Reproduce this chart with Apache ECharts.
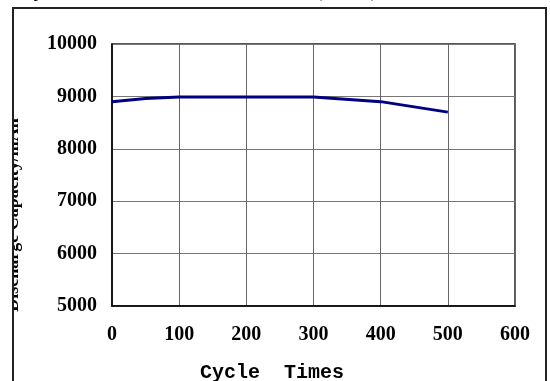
<!DOCTYPE html>
<html>
<head>
<meta charset="utf-8">
<script src="https://cdn.jsdelivr.net/npm/echarts@6/dist/echarts.min.js"></script>
<style>html,body{margin:0;padding:0;background:#fff}#c{width:550px;height:381px}</style>
</head>
<body>
<div id="c"></div>
<script>
var cycles = [0, 50, 100, 200, 300, 400, 500];
var capacity = [8900, 8960, 8990, 8990, 8990, 8900, 8700];
var xTicks = [0, 100, 200, 300, 400, 500, 600];
var yTicks = [5000, 6000, 7000, 8000, 9000, 10000];
var xTitle = 'Cycle  Times';
var yTitle = 'Discharge Capacity/mAh';
var chartTitle = 'Cycle life characteristic curve (mAh)';

var chart = echarts.init(document.getElementById('c'), null, {renderer: 'canvas'});
var serif = '"Liberation Serif", "Times New Roman", serif';
var lbl = {color: '#000', fontFamily: serif, fontWeight: 'bold', fontSize: 20};
function plain(v) { return String(v); }
chart.setOption({
  animation: false,
  backgroundColor: '#fff',
  grid: {left: 112, right: 35, top: 44, bottom: 75, show: true, borderColor: '#222', borderWidth: 1.5, backgroundColor: 'transparent'},
  xAxis: {
    type: 'value', min: xTicks[0], max: xTicks[xTicks.length - 1], interval: 100,
    axisLine: {show: true, lineStyle: {color: '#000', width: 1.5}},
    axisTick: {show: false},
    splitLine: {show: true, lineStyle: {color: '#666', width: 1}},
    axisLabel: Object.assign({margin: 19, formatter: plain}, lbl)
  },
  yAxis: {
    type: 'value', min: yTicks[0], max: yTicks[yTicks.length - 1], interval: 1000,
    axisLine: {show: true, lineStyle: {color: '#000', width: 1.5}},
    axisTick: {show: false},
    splitLine: {show: true, lineStyle: {color: '#777', width: 1}},
    axisLabel: Object.assign({margin: 15, formatter: plain}, lbl)
  },
  series: [{
    type: 'line',
    data: cycles.map(function (c, i) { return [c, capacity[i]]; }),
    showSymbol: false,
    lineStyle: {color: '#000080', width: 3},
    itemStyle: {color: '#000080'}
  }],
  graphic: [
    {type: 'text', left: 17, top: -21, z: 5, style: {text: chartTitle, font: 'bold 23px ' + serif, fill: '#000'}},
    {type: 'text', x: 13, y: 215, rotation: Math.PI / 2, z: 5,
     style: {text: yTitle, font: 'bold 18px ' + serif, fill: '#000', align: 'center', verticalAlign: 'middle'}},
    {type: 'rect', shape: {x: 0, y: 0, width: 12.5, height: 381}, z: 10, style: {fill: '#fff'}},
    {type: 'rect', shape: {x: 13, y: 8, width: 533, height: 400}, z: 11, style: {fill: 'none', stroke: '#222', lineWidth: 2}},
    {type: 'text', x: 272, y: 373, z: 5,
     style: {text: xTitle, font: 'bold 20px "Liberation Mono", "Courier New", monospace', fill: '#000', align: 'center', verticalAlign: 'middle'}}
  ]
});
</script>
</body>
</html>
